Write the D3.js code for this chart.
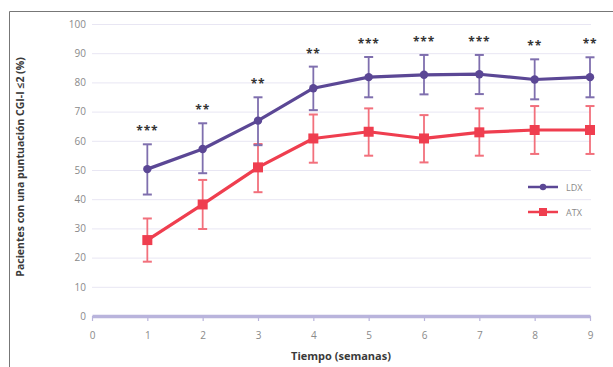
<!DOCTYPE html>
<html>
<head>
<meta charset="utf-8">
<script src="https://cdn.jsdelivr.net/npm/d3@7"></script>
<style>
  body { margin: 0; background: #fff; }
  svg { display: block; font-family: "Open Sans", "DejaVu Sans", sans-serif; }
</style>
</head>
<body>
<script>
const weeks = [1, 2, 3, 4, 5, 6, 7, 8, 9];
const ldx = [50.3, 57.2, 66.9, 78, 81.8, 82.6, 82.8, 81, 81.8];
const ldxLow = [41.6, 48.9, 58.5, 70.5, 74.9, 75.9, 76, 74.2, 74.9];
const ldxHigh = [58.8, 66, 74.9, 85.4, 88.7, 89.4, 89.4, 87.9, 88.6];
const atx = [26, 38.2, 50.9, 60.8, 63.1, 60.8, 62.9, 63.7, 63.7];
const atxLow = [18.6, 29.8, 42.4, 52.5, 54.9, 52.6, 54.9, 55.5, 55.5];
const atxHigh = [33.4, 46.6, 58.9, 69, 71.1, 68.8, 71.1, 71.9, 71.9];
const signif = ['***', '**', '**', '**', '***', '***', '***', '**', '**'];
const yTicks = [0, 10, 20, 30, 40, 50, 60, 70, 80, 90, 100];
const xTicks = [0, 1, 2, 3, 4, 5, 6, 7, 8, 9];

const w = 613, h = 367;
const purple = '#5b4795', red = '#ef3e4f';

const svg = d3.select('body').append('svg').attr('width', w).attr('height', h);

// frame (open to the right and bottom, as cropped)
svg.append('path')
  .attr('d', `M9.5,${h} V11.5 H${w}`)
  .attr('fill', 'none')
  .attr('stroke', '#777')
  .attr('stroke-width', 1);

const x = d3.scaleLinear().domain([0, 9]).range([92, 590]);
const y = d3.scaleLinear().domain([0, 100]).range([316, 24]);

// gridlines
svg.append('g')
  .selectAll('line')
  .data(yTicks.filter(d => d > 0))
  .join('line')
  .attr('x1', x(0)).attr('x2', x(9) + 1)
  .attr('y1', d => y(d) + 0.5).attr('y2', d => y(d) + 0.5)
  .attr('stroke', '#e8e6f3').attr('stroke-width', 1);

// y axis labels
const yAxis = svg.append('g')
  .attr('transform', `translate(${x(0)},0)`)
  .call(d3.axisLeft(y).tickValues(yTicks).tickSize(0).tickPadding(6));
yAxis.select('.domain').remove();
yAxis.selectAll('text').attr('font-size', 10).attr('fill', '#8a8a8a')
  .attr('font-family', '"Open Sans", sans-serif');

// x axis
const xAxis = svg.append('g')
  .attr('transform', `translate(0,${y(0)})`)
  .call(d3.axisBottom(x).tickValues(xTicks).tickSize(5).tickPadding(11).tickSizeOuter(0));
xAxis.select('.domain').attr('stroke', '#b9b4dc').attr('stroke-width', 3.5);
xAxis.selectAll('.tick line').attr('stroke', '#b9b4dc').attr('stroke-width', 1.2);
xAxis.selectAll('text').attr('font-size', 10).attr('fill', '#8a8a8a')
  .attr('font-family', '"Open Sans", sans-serif');

// axis titles
svg.append('text')
  .attr('text-anchor', 'middle')
  .attr('transform', `translate(341,360)`)
  .attr('font-size', 11).attr('font-weight', 'bold').attr('fill', '#3a3a3a')
  .text('Tiempo (semanas)');

svg.append('text')
  .attr('text-anchor', 'middle')
  .attr('transform', `translate(24,167)rotate(-90)`)
  .attr('font-size', 10.5).attr('font-weight', 'bold').attr('fill', '#3a3a3a')
  .text('Pacientes con una puntuación CGI-I ≤2 (%)');

function drawSeries(vals, lows, highs, color, errColor, shape) {
  const g = svg.append('g');
  // error bars
  const eb = g.selectAll('.eb').data(weeks).join('g');
  eb.append('line')
    .attr('x1', d => x(d)).attr('x2', d => x(d))
    .attr('y1', (d, i) => y(lows[i])).attr('y2', (d, i) => y(highs[i]))
    .attr('stroke', errColor).attr('stroke-width', 1.8);
  eb.append('line')
    .attr('x1', d => x(d) - 4.5).attr('x2', d => x(d) + 4.5)
    .attr('y1', (d, i) => y(lows[i])).attr('y2', (d, i) => y(lows[i]))
    .attr('stroke', errColor).attr('stroke-width', 2);
  eb.append('line')
    .attr('x1', d => x(d) - 4.5).attr('x2', d => x(d) + 4.5)
    .attr('y1', (d, i) => y(highs[i])).attr('y2', (d, i) => y(highs[i]))
    .attr('stroke', errColor).attr('stroke-width', 2);

  const line = d3.line().x(d => x(d)).y((d, i) => y(vals[i]));
  g.append('path').datum(weeks)
    .attr('d', line)
    .attr('fill', 'none').attr('stroke', color).attr('stroke-width', 3.2)
    .attr('stroke-linejoin', 'round');

  if (shape === 'circle') {
    g.selectAll('circle').data(weeks).join('circle')
      .attr('cx', d => x(d)).attr('cy', (d, i) => y(vals[i])).attr('r', 4.2)
      .attr('fill', color);
  } else {
    g.selectAll('rect').data(weeks).join('rect')
      .attr('x', d => x(d) - 5).attr('y', (d, i) => y(vals[i]) - 5)
      .attr('width', 10).attr('height', 10)
      .attr('fill', color);
  }
}

drawSeries(atx, atxLow, atxHigh, red, '#f2707c', 'square');
drawSeries(ldx, ldxLow, ldxHigh, purple, '#7f6fae', 'circle');

// significance marks
svg.append('g')
  .selectAll('text')
  .data(weeks)
  .join('text')
  .attr('x', d => x(d))
  .attr('y', (d, i) => y(ldxHigh[i]) - 9)
  .attr('text-anchor', 'middle')
  .attr('font-size', 12).attr('font-weight', 'bold').attr('fill', '#333')
  .attr('letter-spacing', 0.8)
  .text((d, i) => signif[i]);

// legend
const legend = [
  { name: 'LDX', color: purple, shape: 'circle', y: 187 },
  { name: 'ATX', color: red, shape: 'square', y: 212 }
];
const lg = svg.append('g').selectAll('g').data(legend).join('g')
  .attr('transform', d => `translate(528,${d.y})`);
lg.append('line').attr('x1', 0).attr('x2', 30).attr('y1', 0).attr('y2', 0)
  .attr('stroke', d => d.color).attr('stroke-width', 2.5);
lg.filter(d => d.shape === 'circle').append('circle')
  .attr('cx', 15).attr('cy', 0).attr('r', 3.2).attr('fill', d => d.color);
lg.filter(d => d.shape === 'square').append('rect')
  .attr('x', 11).attr('y', -4).attr('width', 8).attr('height', 8).attr('fill', d => d.color);
lg.append('text').attr('x', 38).attr('y', 3.5)
  .attr('font-size', 9).attr('fill', '#8a8a8a')
  .text(d => d.name);
</script>
</body>
</html>
